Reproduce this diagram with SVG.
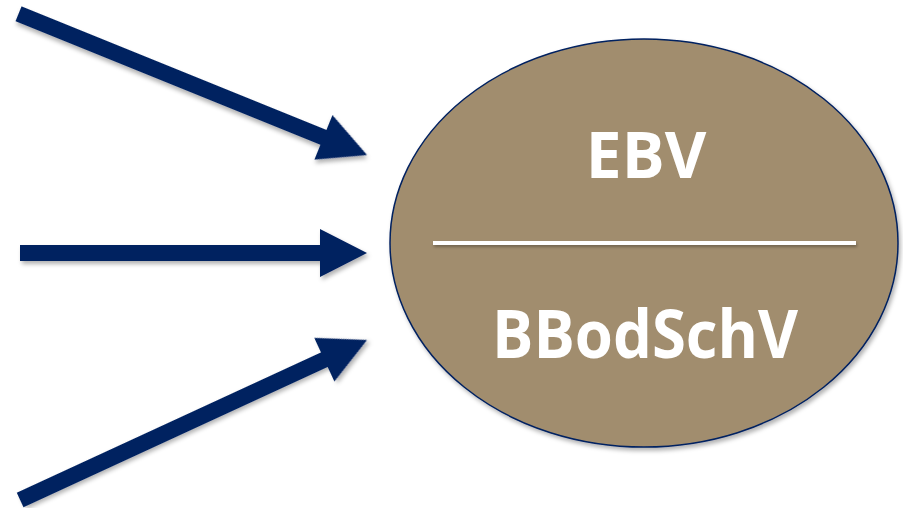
<svg xmlns="http://www.w3.org/2000/svg" width="903" height="508" viewBox="0 0 903 508">
  <defs>
    <filter id="shadow" x="-10%" y="-10%" width="130%" height="130%">
      <feDropShadow dx="2" dy="3" stdDeviation="2" flood-color="#000" flood-opacity="0.3"/>
    </filter>
    <filter id="line-shadow" x="-5%" y="-200%" width="110%" height="600%">
      <feDropShadow dx="1" dy="2" stdDeviation="1.5" flood-color="#000" flood-opacity="0.3"/>
    </filter>
  </defs>
  <style>
    .arrow { fill: #002060; filter: url(#shadow); }
    .node-shape { fill: #a18d6e; stroke: #002060; stroke-width: 1.5; filter: url(#shadow); }
    .divider { fill: #ffffff; filter: url(#line-shadow); }
    .label { fill: #ffffff; font-family: "Open Sans", "Liberation Sans", sans-serif; font-weight: bold; text-anchor: middle; }
  </style>

  <g id="connectors">
    <polygon class="arrow" transform="translate(367,155) rotate(22.06)" points="-376,-8 -47,-8 -47,-24 0,0 -47,24 -47,8 -376,8"/>
    <polygon class="arrow" transform="translate(367,253)" points="-347,-8 -47,-8 -47,-24 0,0 -47,24 -47,8 -347,8"/>
    <polygon class="arrow" transform="translate(367,340) rotate(-24.76)" points="-382,-8 -47,-8 -47,-24 0,0 -47,24 -47,8 -382,8"/>
  </g>

  <g id="regulation-node">
    <ellipse class="node-shape" cx="644" cy="243" rx="254" ry="204"/>
    <rect class="divider" x="433" y="241" width="423" height="4"/>
    <text class="label" x="646" y="178" font-size="64">EBV</text>
    <text class="label" x="645" y="358" font-size="66" textLength="306" lengthAdjust="spacingAndGlyphs">BBodSchV</text>
  </g>
</svg>
